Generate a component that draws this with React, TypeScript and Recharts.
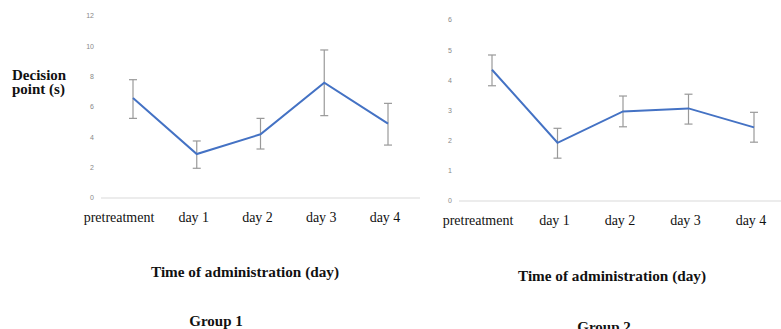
import React from 'react';
import { LineChart, Line, XAxis, YAxis, ErrorBar } from 'recharts';

const categories = ['pretreatment', 'day 1', 'day 2', 'day 3', 'day 4'];

const group1Mean = [6.6, 2.9, 4.2, 7.6, 4.9];
const group1Low = [5.25, 1.96, 3.23, 5.43, 3.49];
const group1High = [7.8, 3.76, 5.25, 9.76, 6.24];

const group2Mean = [4.35, 1.93, 2.97, 3.07, 2.44];
const group2Low = [3.82, 1.42, 2.46, 2.55, 1.95];
const group2High = [4.84, 2.41, 3.48, 3.54, 2.94];

const group1Ticks = [0, 2, 4, 6, 8, 10, 12];
const group2Ticks = [0, 1, 2, 3, 4, 5, 6];

const build = (mean: number[], low: number[], high: number[]) =>
  categories.map((c, i) => ({
    cat: c,
    value: mean[i],
    err: [mean[i] - low[i], high[i] - mean[i]],
  }));

const data1 = build(group1Mean, group1Low, group1High);
const data2 = build(group2Mean, group2Low, group2High);

const SERIF = '"Liberation Serif", "Times New Roman", serif';
const SANS = '"Liberation Sans", Arial, sans-serif';

const XTick = (props: any) => {
  const { x, y, payload, index } = props;
  const dx = index === 0 ? -14 : -3;
  return (
    <text
      x={x + dx}
      y={y + 22}
      textAnchor="middle"
      fontFamily={SERIF}
      fontSize={14}
      fill="#111"
    >
      {payload.value}
    </text>
  );
};

export default function App() {
  return (
    <div
      style={{
        position: 'absolute',
        left: 0,
        top: 0,
        width: 781,
        height: 329,
        overflow: 'hidden',
        background: '#fff',
      }}
    >
      <div style={{ position: 'absolute', left: 0, top: 0 }}>
        <LineChart
          width={430}
          height={240}
          data={data1}
          margin={{ top: 16, right: 10, bottom: 0, left: 91 }}
        >
          <XAxis
            dataKey="cat"
            axisLine={{ stroke: '#d9d9d9', strokeWidth: 1 }}
            tickLine={false}
            tickSize={0}
            tick={<XTick />}
            height={42}
            interval={0}
            padding={{ left: 32, right: 32 }}
          />
          <YAxis
            domain={[0, 12]}
            ticks={group1Ticks}
            axisLine={false}
            tickLine={false}
            tickSize={0}
            tickMargin={7}
            width={10}
            tick={{ fontSize: 7, fill: '#888', fontFamily: SANS }}
            interval={0}
          />
          <Line
            dataKey="value"
            stroke="#4472C4"
            strokeWidth={2}
            dot={false}
            isAnimationActive={false}
          >
            <ErrorBar dataKey="err" stroke="#999" strokeWidth={1.2} width={4} direction="y" />
          </Line>
        </LineChart>
      </div>
      <div style={{ position: 'absolute', left: 400, top: 0 }}>
        <LineChart
          width={400}
          height={243}
          data={data2}
          margin={{ top: 20, right: 13, bottom: 0, left: 49 }}
        >
          <XAxis
            dataKey="cat"
            axisLine={{ stroke: '#d9d9d9', strokeWidth: 1 }}
            tickLine={false}
            tickSize={0}
            tick={<XTick />}
            height={42}
            interval={0}
            padding={{ left: 33, right: 33 }}
          />
          <YAxis
            domain={[0, 6]}
            ticks={group2Ticks}
            axisLine={false}
            tickLine={false}
            tickSize={0}
            tickMargin={7}
            width={10}
            tick={{ fontSize: 7, fill: '#888', fontFamily: SANS }}
            interval={0}
          />
          <Line
            dataKey="value"
            stroke="#4472C4"
            strokeWidth={2}
            dot={false}
            isAnimationActive={false}
          >
            <ErrorBar dataKey="err" stroke="#999" strokeWidth={1.2} width={4} direction="y" />
          </Line>
        </LineChart>
      </div>
      <svg
        width={781}
        height={329}
        style={{ position: 'absolute', left: 0, top: 0, pointerEvents: 'none' }}
      >
        <g fontFamily={SERIF} fontWeight="bold" fill="#111">
          <text x={12} y={79.5} fontSize={15}>Decision</text>
          <text x={12} y={94} fontSize={15}>point (s)</text>
          <text x={245} y={277} fontSize={15} textAnchor="middle" textLength={188} lengthAdjust="spacingAndGlyphs">
            Time of administration (day)
          </text>
          <text x={612} y={281} fontSize={15} textAnchor="middle" textLength={188} lengthAdjust="spacingAndGlyphs">
            Time of administration (day)
          </text>
          <text x={216} y={326} fontSize={15} textAnchor="middle">Group 1</text>
          <text x={604} y={332} fontSize={15} textAnchor="middle">Group 2</text>
        </g>
      </svg>
    </div>
  );
}
